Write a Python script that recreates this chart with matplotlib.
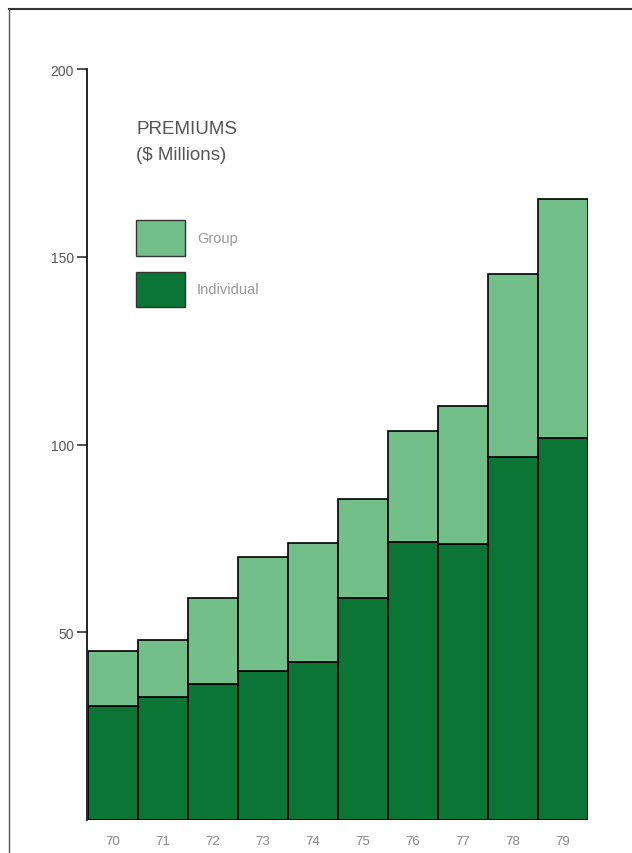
import numpy as np
import matplotlib.pyplot as plt
from matplotlib.lines import Line2D
from matplotlib.patches import Rectangle

years = ['70', '71', '72', '73', '74', '75', '76', '77', '78', '79']
individual = [30.3, 32.8, 36.1, 39.6, 42.2, 59.1, 74.0, 73.4, 96.6, 101.7]
total = [44.9, 47.9, 59.1, 70.0, 73.9, 85.5, 103.5, 110.2, 145.5, 165.5]
group = [t - i for t, i in zip(total, individual)]

dark = '#0a7534'
light = '#72bf8a'
txt = '#555555'

plt.rcParams['font.family'] = ['Liberation Sans', 'DejaVu Sans']

fig = plt.figure(figsize=(6.32, 8.54), dpi=100)
ax = fig.add_axes([88 / 632, 33 / 854, 500 / 632, 751 / 854])

x = np.arange(len(years))
ax.bar(x, individual, width=1.0, color=dark, edgecolor='black', linewidth=1.2)
ax.bar(x, group, bottom=individual, width=1.0, color=light, edgecolor='black', linewidth=1.2)

ax.set_xlim(-0.5, 9.5)
ax.set_ylim(0, 200)
ax.set_yticks([50, 100, 150, 200])
ax.set_xticks(x)
ax.set_xticklabels(years, color='#888888', fontsize=9.5)
ax.tick_params(axis='x', length=0, pad=11)
ax.tick_params(axis='y', length=7, width=1.2, direction='out', colors='#333333',
               labelsize=10, labelcolor='#555555', pad=2)
for s in ['top', 'right', 'bottom']:
    ax.spines[s].set_visible(False)
ax.spines['left'].set_linewidth(1.2)
ax.spines['left'].set_position(('outward', 1))

# title and legend drawn inside the plot area
fig.text(136 / 632, 1 - 130 / 854, 'PREMIUMS', fontsize=13.5, color=txt,
         va='center', ha='left')
fig.text(136 / 632, 1 - 156 / 854, '($ Millions)', fontsize=13.5, color=txt,
         va='center', ha='left')

for label, color, top, bot in [('Group', light, 221, 257), ('Individual', dark, 273, 308)]:
    fig.patches.append(Rectangle((136 / 632, 1 - bot / 854), 49 / 632, (bot - top) / 854,
                                 transform=fig.transFigure, facecolor=color,
                                 edgecolor='#333333', linewidth=1.0))
    fig.text(197 / 632, 1 - (top + bot) / 2 / 854, label, fontsize=10.5,
             color='#999999', va='center', ha='left')

# scan frame on top and left
fig.lines.append(Line2D([9 / 632, 1], [1 - 10 / 854, 1 - 10 / 854],
                        transform=fig.transFigure, color='#333333', linewidth=1.5))
fig.lines.append(Line2D([9 / 632, 9 / 632], [0, 1 - 10 / 854],
                        transform=fig.transFigure, color='#555555', linewidth=1.0))

fig.savefig('out.png', dpi=100)
